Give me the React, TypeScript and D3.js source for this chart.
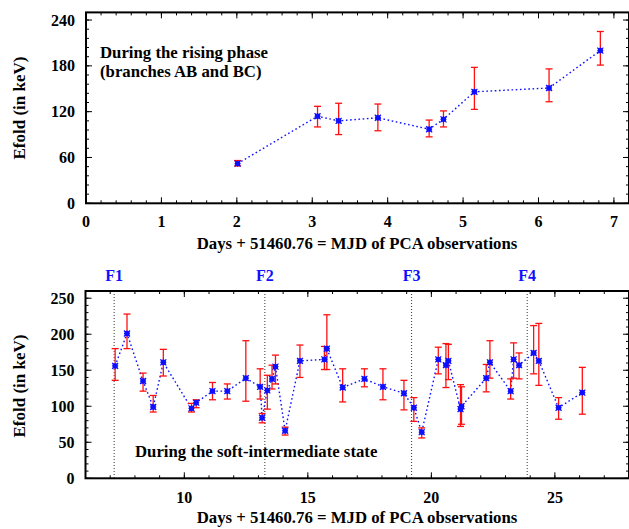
import React from "react";
import * as d3 from "d3";

// Rising phase (branches AB and BC)
const risingDays = [2.01, 3.07, 3.35, 3.87, 4.55, 4.74, 5.15, 6.14, 6.82];
const risingEfold = [52, 114, 108, 112, 97, 110, 146, 151, 200];
const risingLow = [49, 100, 90, 95, 87, 100, 123, 133, 181];
const risingHigh = [56, 127, 131, 130, 109, 121, 178, 176, 225];

// Soft-intermediate state
const softDays = [
  7.2, 7.68, 8.33, 8.74, 9.15, 10.29, 10.48, 11.14, 11.74, 12.49, 13.07, 13.15, 13.36,
  13.55, 13.69, 14.08, 14.68, 15.67, 15.77, 16.41, 17.29, 18.04, 18.89, 19.29, 19.61,
  20.28, 20.59, 20.69, 21.18, 21.22, 22.22, 22.37, 23.21, 23.33, 23.55, 24.14, 24.35,
  25.15, 26.11,
];
const softEfold = [
  156, 201, 135, 99, 161, 97, 105, 121, 121, 139, 127, 84, 122, 138, 155, 66, 163, 165,
  180, 126, 138, 127, 118, 98, 64, 165, 157, 163, 96, 100, 139, 161, 121, 165, 157, 174,
  163, 98, 119,
];
const softLow = [
  136, 180, 121, 92, 142, 92, 98, 109, 110, 107, 110, 77, 96, 124, 131, 60, 140, 151, 151,
  106, 127, 109, 95, 79, 56, 145, 126, 137, 72, 75, 120, 139, 110, 139, 138, 145, 129, 82,
  89,
];
const softHigh = [
  180, 228, 146, 115, 179, 104, 109, 133, 131, 191, 152, 90, 143, 157, 171, 71, 185, 183,
  227, 152, 152, 152, 136, 112, 70, 182, 187, 186, 130, 127, 158, 191, 138, 188, 174, 212,
  215, 112, 154,
];

// Flare markers
const flareDays = [7.16, 13.26, 19.2, 23.88];
const flareLabels = ["F1", "F2", "F3", "F4"];

const xTitle = "Days + 51460.76 = MJD of PCA observations";
const yTitle = "Efold (in keV)";

const FONT = "'Liberation Serif', 'Times New Roman', serif";
const BLUE = "#1010ff";
const RED = "#ff1010";
const TITLE_SIZE = 16.75;

type Pt = { x: number; y: number; lo: number; hi: number };

function zip(xs: number[], ys: number[], lo: number[], hi: number[]): Pt[] {
  return xs.map((x, i) => ({ x, y: ys[i], lo: lo[i], hi: hi[i] }));
}

function range(a: number, b: number, step: number): number[] {
  const out: number[] = [];
  for (let v = a; v <= b + 1e-9; v += step) out.push(Math.round(v * 1000) / 1000);
  return out;
}

type PanelProps = {
  left: number;
  right: number;
  top: number;
  bottom: number;
  xDomain: [number, number];
  yDomain: [number, number];
  xMajor: number[];
  xMinor: number[];
  yMajor: number[];
  yMinor: number[];
  data: Pt[];
  titleY: number;
  xLabelY: number;
  yTitleCenter: number;
  children?: (x: d3.ScaleLinear<number, number>, y: d3.ScaleLinear<number, number>) => React.ReactNode;
};

function Panel(p: PanelProps) {
  const x = d3.scaleLinear().domain(p.xDomain).range([p.left, p.right]);
  const y = d3.scaleLinear().domain(p.yDomain).range([p.bottom, p.top]);
  const line = d3
    .line<Pt>()
    .x((d) => x(d.x))
    .y((d) => y(d.y));
  const sorted = [...p.data].sort((a, b) => a.x - b.x);
  const majorLen = 6;
  const minorLen = 3;
  const tickStyle = { stroke: "#000", strokeWidth: 1 };
  return (
    <g>
      {/* inward ticks on all four sides */}
      {p.xMinor.map((v) => (
        <g key={"xm" + v}>
          <line x1={x(v)} x2={x(v)} y1={p.bottom} y2={p.bottom - minorLen} {...tickStyle} />
          <line x1={x(v)} x2={x(v)} y1={p.top} y2={p.top + minorLen} {...tickStyle} />
        </g>
      ))}
      {p.xMajor.map((v) => (
        <g key={"xM" + v}>
          <line x1={x(v)} x2={x(v)} y1={p.bottom} y2={p.bottom - majorLen} {...tickStyle} />
          <line x1={x(v)} x2={x(v)} y1={p.top} y2={p.top + majorLen} {...tickStyle} />
          <text
            x={x(v)}
            y={p.xLabelY}
            textAnchor="middle"
            dominantBaseline="central"
            fontFamily={FONT}
            fontWeight="bold"
            fontSize={16}
          >
            {v}
          </text>
        </g>
      ))}
      {p.yMinor.map((v) => (
        <g key={"ym" + v}>
          <line x1={p.left} x2={p.left + minorLen} y1={y(v)} y2={y(v)} {...tickStyle} />
          <line x1={p.right} x2={p.right - minorLen} y1={y(v)} y2={y(v)} {...tickStyle} />
        </g>
      ))}
      {p.yMajor.map((v) => (
        <g key={"yM" + v}>
          <line x1={p.left} x2={p.left + majorLen} y1={y(v)} y2={y(v)} {...tickStyle} />
          <line x1={p.right} x2={p.right - majorLen} y1={y(v)} y2={y(v)} {...tickStyle} />
          <text
            x={p.left - 11}
            y={y(v)}
            textAnchor="end"
            dominantBaseline="central"
            fontFamily={FONT}
            fontWeight="bold"
            fontSize={16}
          >
            {v}
          </text>
        </g>
      ))}
      {p.children ? p.children(x, y) : null}
      {/* connecting dotted line */}
      <path
        d={line(sorted) || ""}
        fill="none"
        stroke={BLUE}
        strokeWidth={1.4}
        strokeDasharray="1.6,2.6"
      />
      {/* error bars */}
      {sorted.map((d, i) => (
        <g key={"e" + i} stroke={RED} strokeWidth={1.3}>
          <line x1={x(d.x)} x2={x(d.x)} y1={y(d.lo)} y2={y(d.hi)} />
          <line x1={x(d.x) - 3.5} x2={x(d.x) + 3.5} y1={y(d.lo)} y2={y(d.lo)} />
          <line x1={x(d.x) - 3.5} x2={x(d.x) + 3.5} y1={y(d.hi)} y2={y(d.hi)} />
        </g>
      ))}
      {/* star markers */}
      {sorted.map((d, i) => {
        const cx = x(d.x);
        const cy = y(d.y);
        const r = 3;
        return (
          <g key={"m" + i} stroke={BLUE} strokeWidth={1.2}>
            <rect x={cx - 2.5} y={cy - 2.5} width={5} height={5} fill={BLUE} stroke="none" />
            <line x1={cx - r} x2={cx + r} y1={cy} y2={cy} />
            <line x1={cx} x2={cx} y1={cy - r} y2={cy + r} />
            <line x1={cx - r} x2={cx + r} y1={cy - r} y2={cy + r} />
            <line x1={cx - r} x2={cx + r} y1={cy + r} y2={cy - r} />
          </g>
        );
      })}
      {/* frame */}
      <rect
        x={p.left}
        y={p.top}
        width={p.right - p.left}
        height={p.bottom - p.top}
        fill="none"
        stroke="#000"
        strokeWidth={2}
      />
      <text
        x={357}
        y={p.titleY}
        textAnchor="middle"
        dominantBaseline="central"
        fontFamily={FONT}
        fontWeight="bold"
        fontSize={TITLE_SIZE}
      >
        {xTitle}
      </text>
      <text
        transform={`translate(19,${p.yTitleCenter}) rotate(-90)`}
        textAnchor="middle"
        dominantBaseline="central"
        fontFamily={FONT}
        fontWeight="bold"
        fontSize={17}
      >
        {yTitle}
      </text>
    </g>
  );
}

export default function App() {
  const rising = zip(risingDays, risingEfold, risingLow, risingHigh);
  const soft = zip(softDays, softEfold, softLow, softHigh);
  return (
    <svg
      width={629}
      height={529}
      style={{ position: "absolute", left: 0, top: 0, background: "#fff" }}
    >
      <rect width={629} height={529} fill="#fff" />
      <Panel
        left={86}
        right={629}
        top={12.4}
        bottom={203.3}
        xDomain={[0, 7.2]}
        yDomain={[0, 250]}
        xMajor={range(0, 7, 1)}
        xMinor={range(0, 7.2, 0.2)}
        yMajor={range(0, 240, 60)}
        yMinor={range(0, 250, 12)}
        data={rising}
        titleY={243}
        xLabelY={221}
        yTitleCenter={108}
      >
        {() => (
          <g fontFamily={FONT} fontWeight="bold" fontSize={TITLE_SIZE}>
            <text x={100} y={52} dominantBaseline="central">
              During the rising phase
            </text>
            <text x={100} y={71} dominantBaseline="central">
              (branches AB and BC)
            </text>
          </g>
        )}
      </Panel>
      <Panel
        left={85.5}
        right={629}
        top={291}
        bottom={478.3}
        xDomain={[6, 28]}
        yDomain={[0, 260]}
        xMajor={range(10, 25, 5)}
        xMinor={range(6, 28, 1)}
        yMajor={range(0, 250, 50)}
        yMinor={range(0, 260, 10)}
        data={soft}
        titleY={517}
        xLabelY={497}
        yTitleCenter={386}
      >
        {(x, y) => (
          <g>
            {flareDays.map((f, i) => (
              <g key={flareLabels[i]}>
                <line
                  x1={x(f)}
                  x2={x(f)}
                  y1={y(260)}
                  y2={y(0)}
                  stroke="#333"
                  strokeWidth={1}
                  strokeDasharray="1,2"
                />
                <text
                  x={x(f)}
                  y={275}
                  textAnchor="middle"
                  dominantBaseline="central"
                  fontFamily={FONT}
                  fontWeight="bold"
                  fontSize={16}
                  fill={BLUE}
                >
                  {flareLabels[i]}
                </text>
              </g>
            ))}
            <text
              x={135}
              y={451}
              dominantBaseline="central"
              fontFamily={FONT}
              fontWeight="bold"
              fontSize={TITLE_SIZE}
            >
              During the soft-intermediate state
            </text>
          </g>
        )}
      </Panel>
    </svg>
  );
}
